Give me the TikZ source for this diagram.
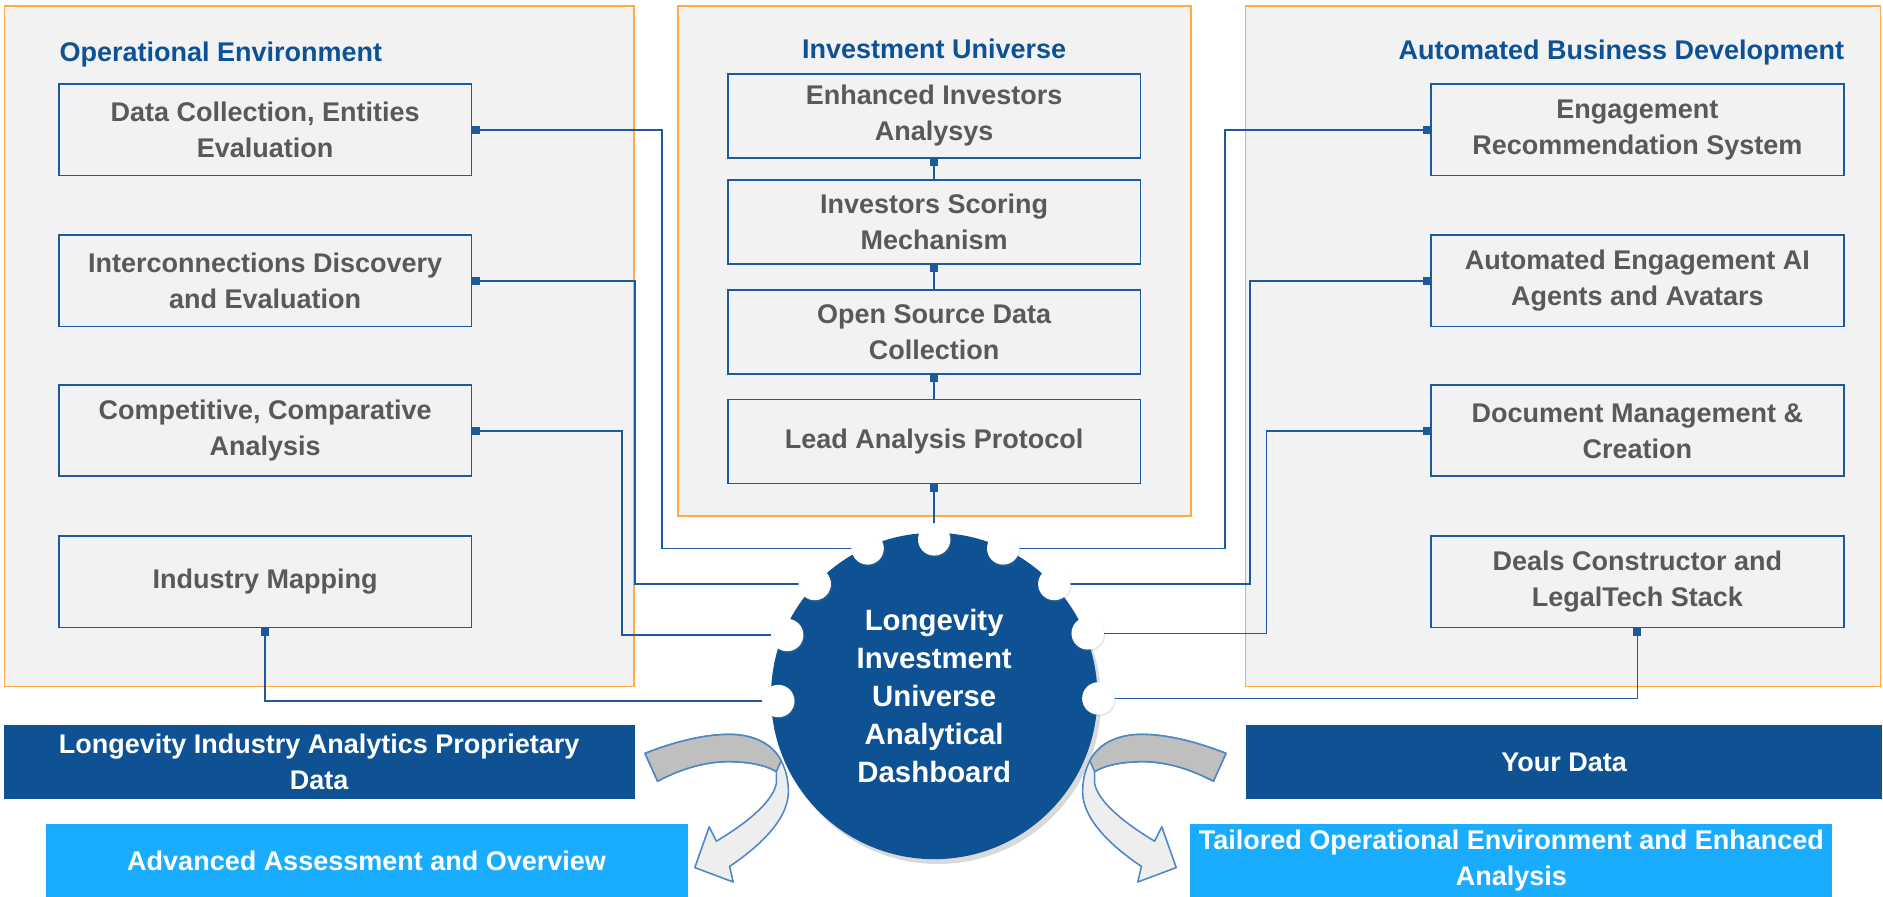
\documentclass[tikz,border=0pt]{standalone}
\usepackage{fontspec}
\setmainfont{Liberation Sans}
\usetikzlibrary{arrows.meta,shadows}
\definecolor{orng}{HTML}{FFAA45}
\definecolor{panelbg}{HTML}{F2F2F2}
\definecolor{boxline}{HTML}{1C5A9C}
\definecolor{titleblue}{HTML}{0E5296}
\definecolor{txtgray}{HTML}{595959}
\definecolor{darkblue}{HTML}{0E5293}
\definecolor{lightblue}{HTML}{1AADFF}
\definecolor{arrline}{HTML}{4F86C6}
\definecolor{arrdark}{HTML}{BFBFBF}
\definecolor{arrlight}{HTML}{EEEEEE}
\newcommand\bxfont{\fontsize{22.5}{30}\selectfont\bfseries}
\newcommand\hubfont{\fontsize{24.5}{31.6}\selectfont\bfseries}
\begin{document}
\begin{tikzpicture}[x=1pt,y=-1pt,
  panel/.style={draw=orng, fill=panelbg, line width=1.4pt},
  item/.style={draw=boxline, fill=panelbg, line width=1.5pt, text=txtgray, font=\bxfont,
    align=center, inner sep=0pt, minimum width=344pt, minimum height=76pt},
  citem/.style={item, minimum height=70pt},
  ttl/.style={text=titleblue, font=\bxfont, inner sep=0pt},
  conn/.style={draw=boxline, line width=1.2pt, arrows={{Square[length=6pt,width=6.5pt]}-}},
  dot/.style={circle, fill=white, minimum size=27pt, inner sep=0pt,
    drop shadow={opacity=0.18, shadow xshift=1pt, shadow yshift=-1.5pt}},
  hub/.style={circle, fill=darkblue, minimum size=272pt, inner sep=0pt, text=white,
    font=\hubfont, align=center,
    drop shadow={opacity=0.3, shadow xshift=3pt, shadow yshift=-4pt}},
  dband/.style={fill=darkblue, text=white, font=\bxfont, align=center, inner sep=0pt},
  lband/.style={fill=lightblue, text=white, font=\bxfont, align=center, inner sep=0pt},
  arrbody/.style={draw=arrline, fill=arrlight, line width=1.3pt, line join=round},
  arrtop/.style={draw=arrline, fill=arrdark, line width=1.3pt, line join=round}
]
\useasboundingbox (0,0) rectangle (1569.2,747.5);

% panels
\path[panel] (3.7,5) rectangle (528.5,572);
\path[panel] (565,5) rectangle (992.5,430);
\path[panel] (1038,5) rectangle (1567,572);

% titles
\node[ttl, anchor=base west] (t1) at (49.5,51.5) {Operational Environment};
\node[ttl, anchor=base] (t2) at (778.5,48.4) {Investment Universe};
\node[ttl, anchor=base east] (t3) at (1537,49.4) {Automated Business Development};

% boxes (nodes first, connectors drawn after and boxes redrawn is unnecessary)
\node[item] (dc) at (221,108.3) {Data Collection, Entities\\Evaluation};
\node[item] (ic) at (221,234) {Interconnections Discovery\\and Evaluation};
\node[item] (cc) at (221,359) {Competitive, Comparative\\Analysis};
\node[item] (im) at (221,485) {Industry Mapping};

\node[citem] (ea) at (778.5,96.5) {Enhanced Investors\\Analysys};
\node[citem] (ism) at (778.5,184.7) {Investors Scoring\\Mechanism};
\node[citem] (osd) at (778.5,276.7) {Open Source Data\\Collection};
\node[citem] (lap) at (778.5,368) {Lead Analysis Protocol};

\node[item] (er) at (1364.5,108.3) {Engagement\\Recommendation System};
\node[item] (ae) at (1364.5,234) {Automated Engagement AI\\Agents and Avatars};
\node[item] (dm) at (1364.5,359) {Document Management \&\\Creation};
\node[item] (ds) at (1364.5,485) {Deals Constructor and\\LegalTech Stack};

% dots positions (nodes drawn later)
\coordinate (p1) at (778.5,449.5);
\coordinate (p2) at (723,457);
\coordinate (p3) at (836,457);
\coordinate (p4) at (679,486.7);
\coordinate (p5) at (878.6,486.7);
\coordinate (p6) at (656,529.2);
\coordinate (p7) at (906.4,527.8);
\coordinate (p8) at (648.6,584.2);
\coordinate (p9) at (915.3,582);

% connectors
\draw[conn] (ea.south) -- (ism.north);
\draw[conn] (ism.south) -- (osd.north);
\draw[conn] (osd.south) -- (lap.north);
\draw[conn] (lap.south) -- (p1);
\draw[conn] (dc.east) -- ++(158,0) |- (p2);
\draw[conn] (ic.east) -- ++(135.5,0) |- (p4);
\draw[conn] (cc.east) -- ++(124.5,0) |- (p6);
\draw[conn] (im.south) |- (p8);
\draw[conn] (er.west) -- ++(-171,0) |- (p3);
\draw[conn] (ae.west) -- ++(-150,0) |- (p5);
\draw[conn] (dm.west) -- ++(-136.5,0) |- (p7);
\draw[conn] (ds.south) |- (p9);

% hub
\node[hub] (hub) at (778.5,580) {Longevity\\Investment\\Universe\\Analytical\\Dashboard};
\foreach \i in {1,...,9} { \node[dot] (d\i) at (p\i) {}; }

% bottom bands
\node[dband, minimum width=526pt, minimum height=62pt] (lia) at (266,635) {Longevity Industry Analytics Proprietary\\Data};
\node[dband, minimum width=530pt, minimum height=62pt] (yd) at (1303.5,635) {Your Data};
\node[lband, minimum width=535pt, minimum height=61pt] (aao) at (305.5,717.5) {Advanced Assessment and Overview};
\node[lband, minimum width=535pt, minimum height=61pt] (toe) at (1259.5,717.5) {Tailored Operational Environment and Enhanced\\Analysis};

% curved arrows
\foreach \mir/\sh in {1/0, -1/1559.2} {
\begin{scope}[xshift=\sh pt, xscale=\mir]
\path[arrbody] (537.5,627.8) .. controls (560,619) and (585,612) .. (608,612)
  .. controls (628,612) and (644,620) .. (651,634)
  .. controls (655,642) and (657,650) .. (657,660)
  .. controls (657,683) and (632,706) .. (608,722)
  -- (611,735) -- (579,723) -- (591,689) -- (597,701)
  .. controls (612,692) and (643,672) .. (647,653)
  -- (647,643)
  .. controls (637,637) and (622,634.7) .. (606,634.7)
  .. controls (585,635) and (565,642) .. (548,651) -- cycle;
\path[arrtop] (537.5,627.8) .. controls (560,619) and (585,612) .. (608,612)
  .. controls (628,612) and (644,620) .. (651,634)
  -- (647,643)
  .. controls (637,637) and (622,634.7) .. (606,634.7)
  .. controls (585,635) and (565,642) .. (548,651) -- cycle;
\end{scope}
}
\end{tikzpicture}
\end{document}
